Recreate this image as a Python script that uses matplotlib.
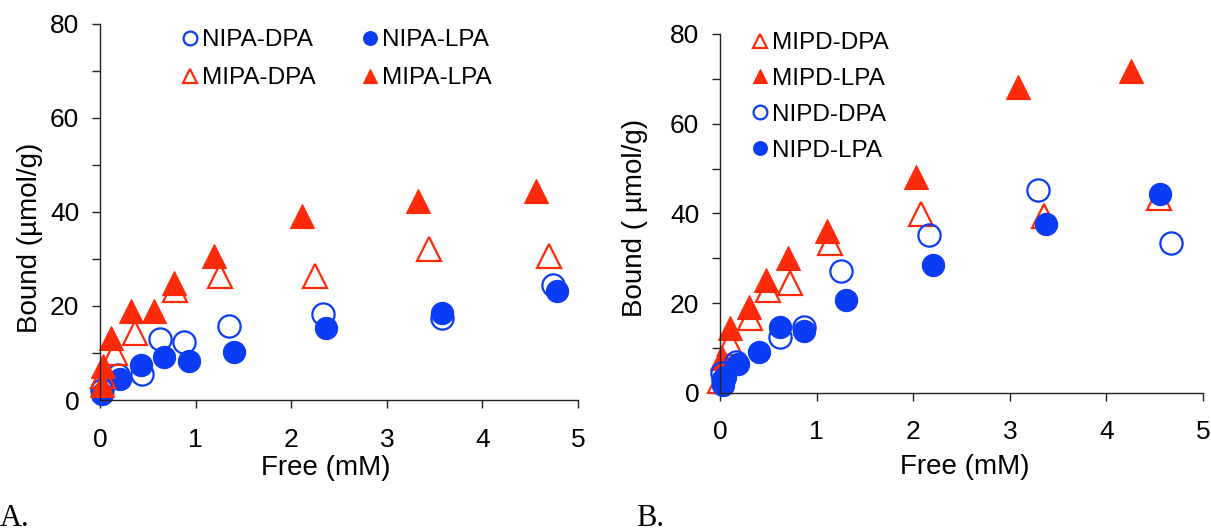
import matplotlib.pyplot as plt
from matplotlib.ticker import MultipleLocator

plt.rcParams['font.family'] = ['Liberation Sans', 'DejaVu Sans']

RED = '#ff2a0a'
BLUE = '#0a3cf5'

# panel A data (Free mM, Bound umol/g)
nipa_dpa_x = [0.02, 0.19, 0.44, 0.63, 0.88, 1.35, 2.33, 3.58, 4.74]
nipa_dpa_y = [2.2, 5.4, 5.5, 12.9, 12.4, 15.8, 18.2, 17.4, 24.5]
nipa_lpa_x = [0.02, 0.21, 0.43, 0.67, 0.93, 1.40, 2.36, 3.58, 4.78]
nipa_lpa_y = [1.3, 4.5, 7.5, 9.1, 8.2, 10.1, 15.3, 18.5, 23.1]
mipa_dpa_x = [0.03, 0.16, 0.37, 0.78, 1.25, 2.25, 3.44, 4.70]
mipa_dpa_y = [5.0, 10.0, 14.2, 23.3, 26.3, 26.4, 32.0, 30.7]
mipa_lpa_x = [0.02, 0.03, 0.12, 0.32, 0.56, 0.77, 1.19, 2.11, 3.33, 4.56]
mipa_lpa_y = [3.1, 7.2, 13.2, 18.9, 18.9, 24.8, 30.7, 39.1, 42.2, 44.4]

# panel B data
mipd_dpa_x = [0.00, 0.10, 0.31, 0.50, 0.72, 1.14, 2.08, 3.35, 4.54]
mipd_dpa_y = [2.5, 11.0, 16.6, 23.0, 24.5, 33.3, 39.9, 39.5, 43.5]
mipd_lpa_x = [0.02, 0.10, 0.30, 0.48, 0.70, 1.11, 2.03, 3.08, 4.25]
mipd_lpa_y = [7.7, 14.4, 19.2, 25.1, 30.0, 36.1, 48.0, 68.1, 71.7]
nipd_dpa_x = [0.03, 0.02, 0.17, 0.62, 0.87, 1.25, 2.16, 3.29, 4.67]
nipd_dpa_y = [2.8, 4.3, 6.9, 12.5, 14.7, 27.1, 35.2, 45.3, 33.3]
nipd_lpa_x = [0.03, 0.05, 0.19, 0.40, 0.62, 0.87, 1.30, 2.21, 3.37, 4.56]
nipd_lpa_y = [1.7, 3.5, 6.4, 9.1, 14.7, 13.8, 20.7, 28.5, 37.7, 44.4]

x_ticks = [0, 1, 2, 3, 4, 5]
y_ticks = [0, 20, 40, 60, 80]

fig = plt.figure(figsize=(12.11, 5.31), dpi=100)
axA = fig.add_axes([100 / 1211, 1 - 400 / 531, 478 / 1211, 376.5 / 531])
axB = fig.add_axes([720 / 1211, 1 - 392.7 / 531, 483 / 1211, 358.7 / 531])


def open_circle(ax, x, y, label):
    ax.plot(x, y, 'o', ms=16, mfc='none', mec=BLUE, mew=1.6, ls='none',
            label=label, clip_on=False)


def filled_circle(ax, x, y, label):
    ax.plot(x, y, 'o', ms=16, mfc=BLUE, mec=BLUE, mew=0.8, ls='none',
            label=label, clip_on=False)


def open_tri(ax, x, y, label):
    ax.plot(x, y, '^', ms=17, mfc='none', mec=RED, mew=1.6, ls='none',
            label=label, clip_on=False)


def filled_tri(ax, x, y, label):
    ax.plot(x, y, '^', ms=17, mfc=RED, mec=RED, mew=0.8, ls='none',
            label=label, clip_on=False)


# panel A
open_circle(axA, nipa_dpa_x, nipa_dpa_y, 'NIPA-DPA')
filled_circle(axA, nipa_lpa_x, nipa_lpa_y, 'NIPA-LPA')
open_tri(axA, mipa_dpa_x, mipa_dpa_y, 'MIPA-DPA')
filled_tri(axA, mipa_lpa_x, mipa_lpa_y, 'MIPA-LPA')

# panel B
open_tri(axB, mipd_dpa_x, mipd_dpa_y, 'MIPD-DPA')
filled_tri(axB, mipd_lpa_x, mipd_lpa_y, 'MIPD-LPA')
open_circle(axB, nipd_dpa_x, nipd_dpa_y, 'NIPD-DPA')
filled_circle(axB, nipd_lpa_x, nipd_lpa_y, 'NIPD-LPA')

for ax in (axA, axB):
    ax.set_xlim(0, 5)
    ax.set_ylim(0, 80)
    ax.set_xticks(x_ticks)
    ax.set_yticks(y_ticks)
    ax.yaxis.set_minor_locator(MultipleLocator(10))
    ax.spines['top'].set_visible(False)
    ax.spines['right'].set_visible(False)
    for s in ('left', 'bottom'):
        ax.spines[s].set_linewidth(1.0)
        ax.spines[s].set_color('#222222')
    ax.tick_params(axis='both', which='both', direction='out', length=6,
                   width=1.0, color='#222222', labelsize=19)
    ax.tick_params(axis='y', which='both', pad=9)
    ax.tick_params(axis='x', which='major', pad=14)
    ax.set_xlabel('Free (mM)', fontsize=20)
    ax.set_zorder(1)

axA.set_ylabel('Bound (µmol/g)', fontsize=20)
axB.set_ylabel('Bound ( µmol/g)', fontsize=20)
axA.yaxis.set_label_coords(-0.12, 0.43)
axB.yaxis.set_label_coords(-0.15, 0.487)
axA.xaxis.set_label_coords(0.473, -0.145)
axB.xaxis.set_label_coords(0.507, -0.17)

# legends
hA, lA = axA.get_legend_handles_labels()
order = [0, 2, 1, 3]
axA.legend([hA[i] for i in order], [lA[i] for i in order], ncol=2,
           loc='upper left', bbox_to_anchor=(183 / 1211, 1 - 29 / 531),
           bbox_transform=fig.transFigure, frameon=False, fontsize=17.5,
           markerscale=0.62, handlelength=0.6, handletextpad=0.2,
           columnspacing=1.9, labelspacing=0.66, borderpad=0,
           borderaxespad=0)
axB.legend(loc='upper left', bbox_to_anchor=(753 / 1211, 1 - 32 / 531),
           bbox_transform=fig.transFigure, frameon=False, fontsize=17.5,
           markerscale=0.62, handlelength=0.6, handletextpad=0.2,
           labelspacing=0.57, borderpad=0, borderaxespad=0)

fig.text(0, 5 / 531, 'A.', fontsize=22, family='Liberation Serif',
         ha='left', va='baseline')
fig.text(636 / 1211, 5 / 531, 'B.', fontsize=22, family='Liberation Serif',
         ha='left', va='baseline')

fig.savefig('out.png', dpi=100)
